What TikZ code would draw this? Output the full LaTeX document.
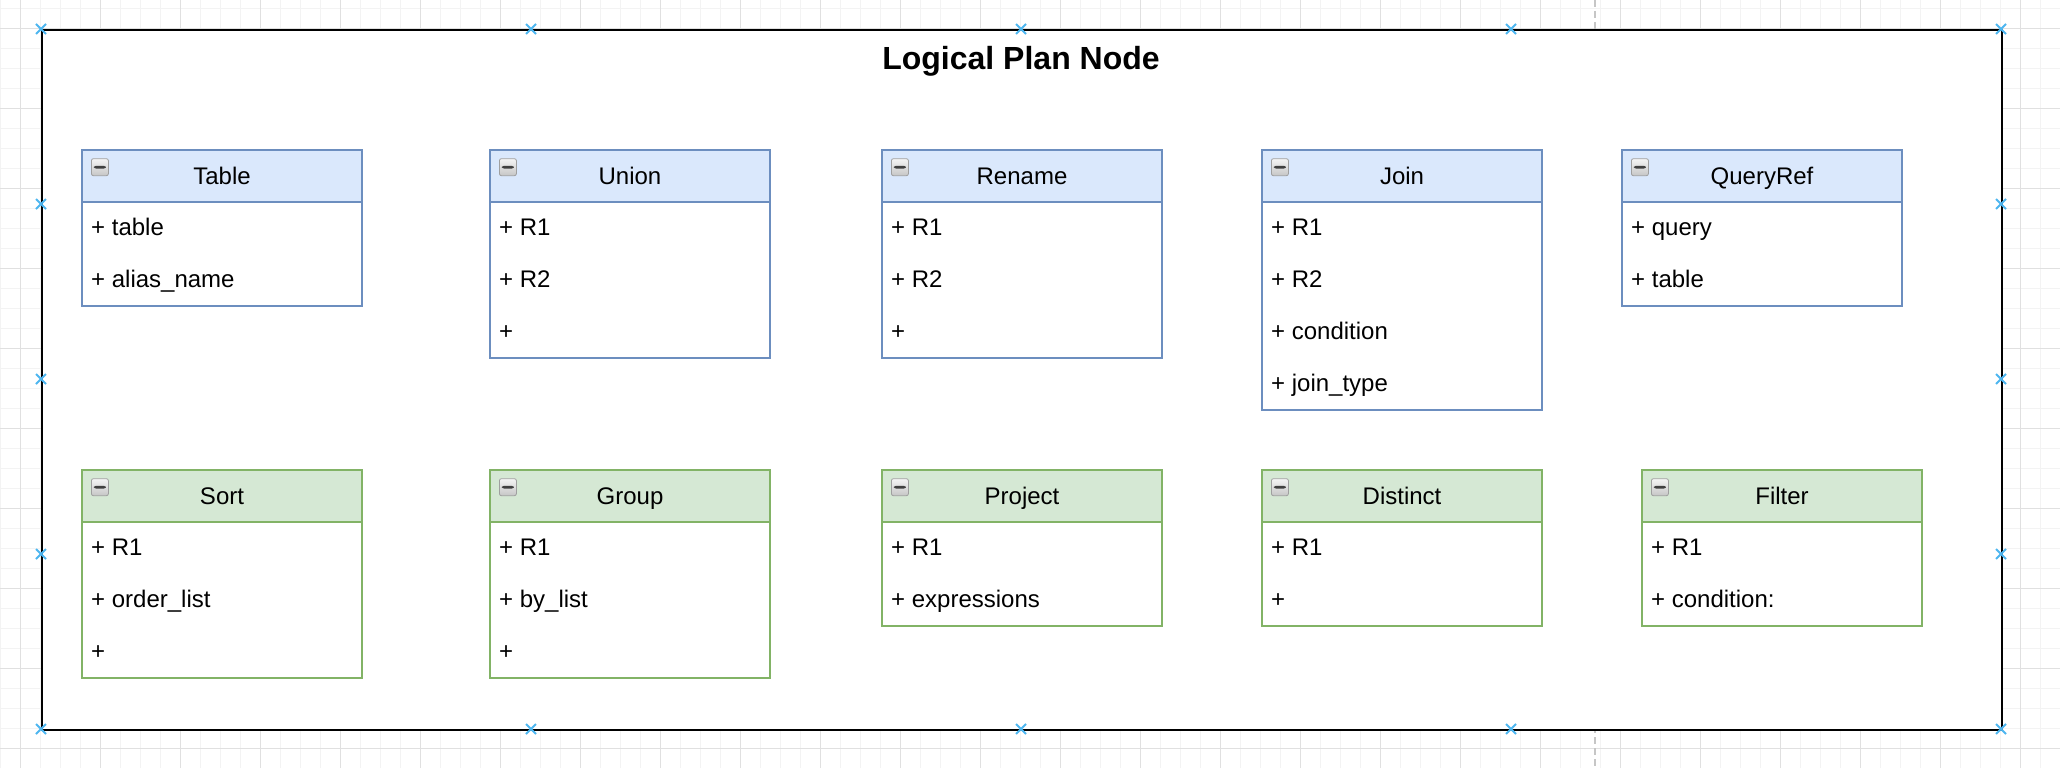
\documentclass[tikz,border=0pt]{standalone}
\usepackage{fontspec}
\setmainfont{Liberation Sans}
\definecolor{bluefill}{HTML}{DAE8FC}
\definecolor{bluedraw}{HTML}{6C8EBF}
\definecolor{greenfill}{HTML}{D5E8D4}
\definecolor{greendraw}{HTML}{82B366}
\definecolor{handle}{HTML}{4DB6F0}
\definecolor{gridminor}{HTML}{F3F3F3}
\definecolor{gridmajor}{HTML}{E0E0E0}
\newcommand\umlfont{\fontsize{24}{28}\selectfont}
\newcommand\umltitlefont{\fontsize{32}{38}\selectfont\bfseries}
\tikzset{
  head/.style={draw=#1draw, fill=#1fill, line width=2pt, minimum width=280pt,
    minimum height=52pt, inner sep=0pt, font=\umlfont, text height=17.2pt, text depth=0pt},
  body/.style={draw=#1draw, fill=white, line width=2pt, minimum width=280pt, inner sep=0pt},
  rowtext/.style={inner sep=0pt, font=\umlfont, text height=17.2pt, text depth=0pt},
  collapse/.style={draw=gray!75, line width=0.8pt, rounded corners=2pt, top color=gray!8,
    bottom color=gray!45, minimum size=17pt, inner sep=0pt,
    path picture={\fill[black!75] ([shift={(-6,-1.3)}]path picture bounding box.center)
      rectangle ([shift={(6,1.3)}]path picture bounding box.center);}},
  frame/.style={draw=black, fill=white, line width=2pt, inner sep=0pt},
  handlemark/.style={draw=handle, line width=2pt},
  minorgrid/.style={draw=gridminor, line width=1pt},
  majorgrid/.style={draw=gridmajor, line width=1pt},
  pagebreak/.style={draw=gray!45, line width=1.5pt, dash pattern=on 7pt off 4pt}
}
% name, left x, top y, title, colour scheme, number of rows, rows
\newcommand\umlclass[7]{%
  \node[body=#5, minimum height={52*#6}, anchor=north west] (#1-body) at (#2,{#3+52}) {};
  \node[head=#5, anchor=north west] (#1) at (#2,#3) {#4};
  \node[collapse, anchor=north west] (#1-icon) at ({#2+10},{#3+9.3}) {};
  \foreach \rowtxt [count=\i] in {#7} {
    \node[rowtext, anchor=west] (#1-\i) at ({#2+10},{#3+52+26+52*(\i-1)}) {\rowtxt};
  }%
}
\begin{document}
\begin{tikzpicture}[x=1pt,y=-1pt]
\useasboundingbox (0,0) rectangle (2060,768);
\fill[white] (0,0) rectangle (2060,768);
% canvas grid
\foreach \gx in {0.7,20.7,...,2060} { \draw[minorgrid] (\gx,0) -- (\gx,768); }
\foreach \gy in {8.3,28.3,...,768} { \draw[minorgrid] (0,\gy) -- (2060,\gy); }
\foreach \gx in {20.7,100.7,...,2060} { \draw[majorgrid] (\gx,0) -- (\gx,768); }
\foreach \gy in {28.3,108.3,...,768} { \draw[majorgrid] (0,\gy) -- (2060,\gy); }
% page break line
\draw[pagebreak] (1595,0) -- (1595,768);
% container
\node[frame, minimum width=1960pt, minimum height=700pt, anchor=north west] (frame) at (41,29) {};
\node[font=\umltitlefont, inner sep=0pt, text height=22.9pt, text depth=0pt] (title) at (1021,58.5) {Logical Plan Node};
% first row
\umlclass{table}{81}{149}{Table}{blue}{2}{+ table, + alias\_name}
\umlclass{union}{489}{149}{Union}{blue}{3}{+ R1, + R2, +}
\umlclass{rename}{881}{149}{Rename}{blue}{3}{+ R1, + R2, +}
\umlclass{join}{1261}{149}{Join}{blue}{4}{+ R1, + R2, + condition, + join\_type}
\umlclass{queryref}{1621}{149}{QueryRef}{blue}{2}{+ query, + table}
% second row
\umlclass{sort}{81}{469}{Sort}{green}{3}{+ R1, + order\_list, +}
\umlclass{group}{489}{469}{Group}{green}{3}{+ R1, + by\_list, +}
\umlclass{project}{881}{469}{Project}{green}{2}{+ R1, + expressions}
\umlclass{distinct}{1261}{469}{Distinct}{green}{2}{+ R1, +}
\umlclass{filter}{1641}{469}{Filter}{green}{2}{+ R1, + condition:}
% selection handles of the container
\foreach \hx in {41,531,1021,1511,2001} {
  \foreach \hy in {29,729} {
    \draw[handlemark] (\hx-5,\hy-5) -- (\hx+5,\hy+5) (\hx-5,\hy+5) -- (\hx+5,\hy-5);
  }
}
\foreach \hy in {204,379,554} {
  \foreach \hx in {41,2001} {
    \draw[handlemark] (\hx-5,\hy-5) -- (\hx+5,\hy+5) (\hx-5,\hy+5) -- (\hx+5,\hy-5);
  }
}
\end{tikzpicture}
\end{document}
